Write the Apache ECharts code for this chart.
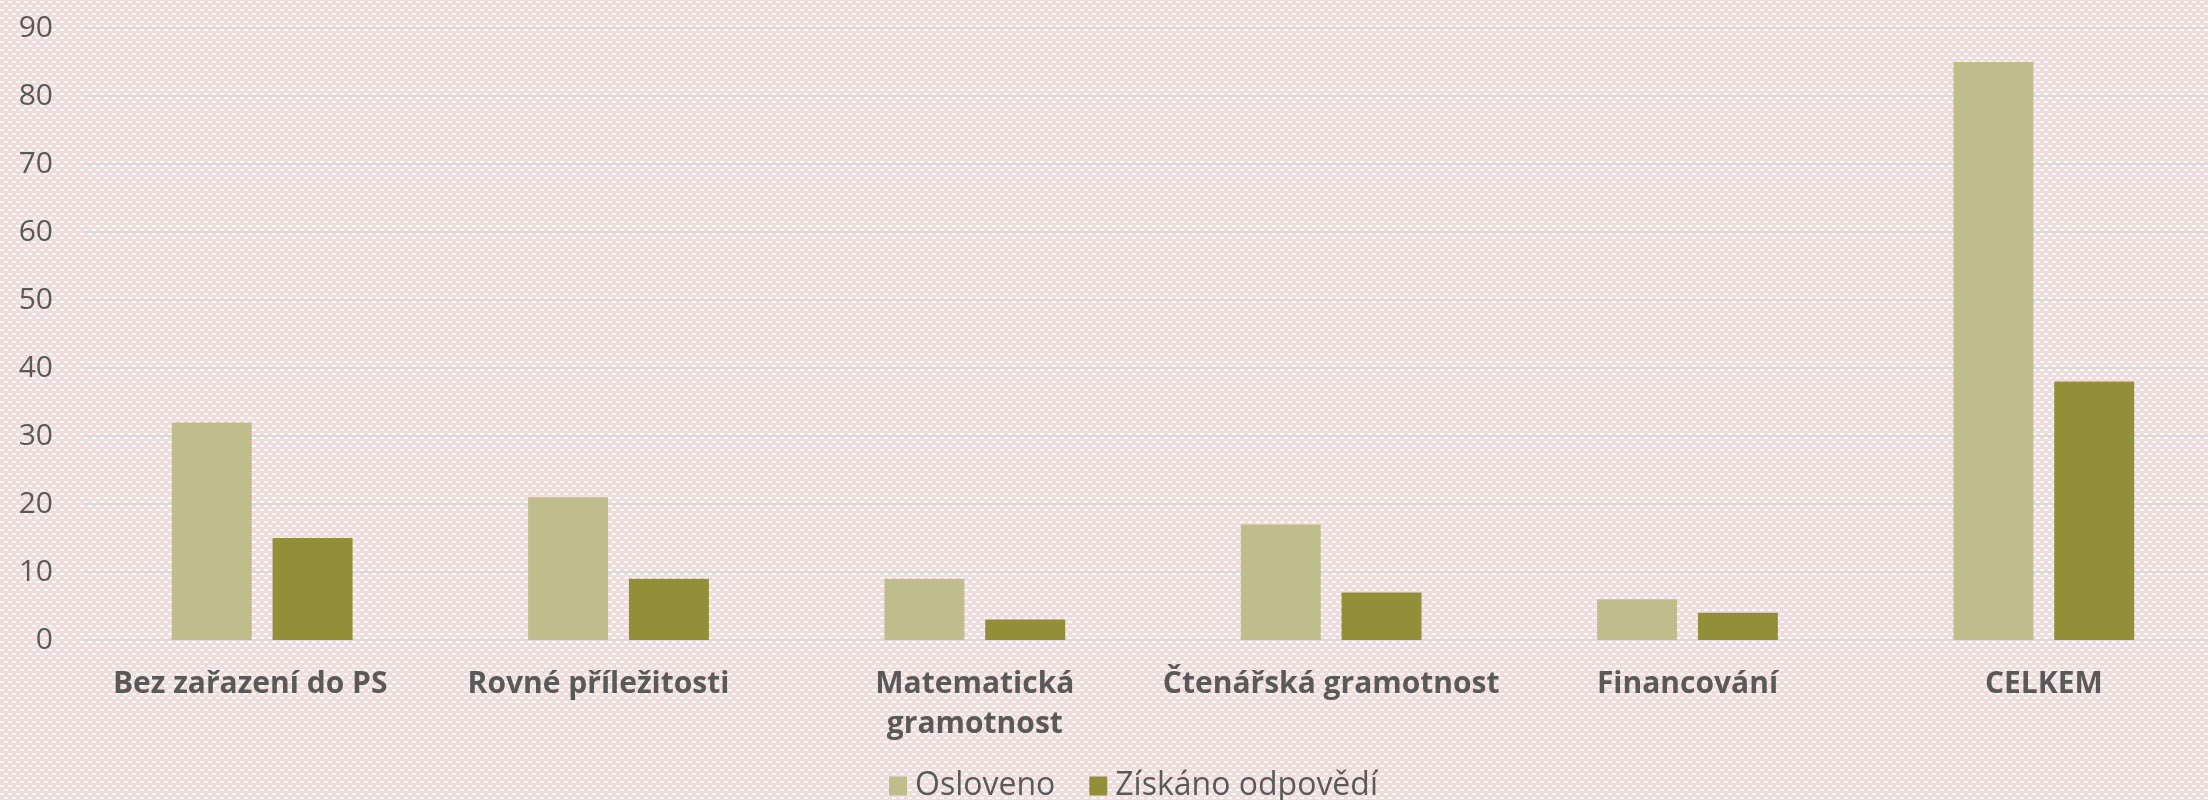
<!DOCTYPE html>
<html>
<head>
<meta charset="utf-8">
<script src="https://cdn.jsdelivr.net/npm/echarts@6/dist/echarts.min.js"></script>
<style>
html,body{margin:0;padding:0;}
#chart{width:2208px;height:800px;}
</style>
</head>
<body>
<div id="chart"></div>
<script>
const categories = ["Bez zařazení do PS", "Rovné příležitosti", "Matematická\ngramotnost", "Čtenářská gramotnost", "Financování", "CELKEM"];
const osloveno = [32, 21, 9, 17, 6, 85];
const ziskano = [15, 9, 3, 7, 4, 38];
const seriesNames = ["Osloveno", "Získáno odpovědí"];
const yTicks = { min: 0, max: 90, interval: 10 };

// background pattern (pink with white horizontal dashes)
const tile = document.createElement('canvas');
tile.width = 8; tile.height = 8;
const c = tile.getContext('2d');
c.fillStyle = '#f2dcdb';
c.fillRect(0, 0, 8, 8);
c.fillStyle = '#ffffff';
c.fillRect(0, 1, 4, 2);
c.fillRect(4, 5, 4, 2);

// label horizontal nudges (layout only), right padding shifts label left by half
const labelPadRight = [24, 40, 0, 0, 0, 0];

const chart = echarts.init(document.getElementById('chart'));
chart.setOption({
  backgroundColor: { image: tile, repeat: 'repeat' },
  animation: false,
  textStyle: { fontFamily: 'Open Sans' },
  grid: { left: 84, top: 28, width: 2138, bottom: 160, containLabel: false, outerBoundsMode: 'none' },
  legend: {
    left: 884, top: 765,
    itemWidth: 18, itemHeight: 19, itemGap: 34,
    icon: 'rect',
    textStyle: { fontFamily: 'Open Sans', fontSize: 32, color: '#595959', padding: [0, 0, 0, 3] },
    data: seriesNames
  },
  xAxis: {
    type: 'category',
    data: categories.map((name, i) => ({ value: name, textStyle: { padding: [0, labelPadRight[i], 0, 0] } })),
    axisLine: { show: true, lineStyle: { color: '#d9d9d9', width: 2 } },
    axisTick: { show: false },
    axisLabel: {
      interval: 0, margin: 24,
      fontFamily: 'Open Sans', fontSize: 30, fontWeight: 'bold', color: '#595959',
      lineHeight: 40
    }
  },
  yAxis: {
    type: 'value',
    min: yTicks.min, max: yTicks.max, interval: yTicks.interval,
    axisLine: { show: false },
    axisTick: { show: false },
    splitLine: { lineStyle: { color: '#d9d9d9', width: 2 } },
    axisLabel: { margin: 31, fontFamily: 'Open Sans', fontSize: 30, color: '#595959' }
  },
  series: [
    { name: seriesNames[0], type: 'bar', data: osloveno, barWidth: 80, barGap: '26%',
      itemStyle: { color: '#bfbd8c' } },
    { name: seriesNames[1], type: 'bar', data: ziskano, barWidth: 80, barGap: '26%',
      itemStyle: { color: '#938f38' } }
  ]
});
</script>
</body>
</html>
